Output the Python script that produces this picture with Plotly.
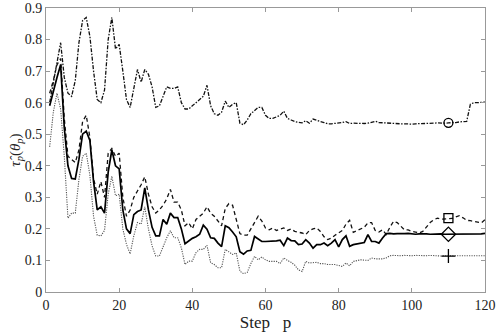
import plotly.graph_objects as go

steps = list(range(1, 121))

# dash-dot series (circle marker)
tau_circle = [0.60, 0.66, 0.73, 0.79, 0.68, 0.63, 0.62, 0.67, 0.79, 0.86,
              0.87, 0.81, 0.70, 0.61, 0.60, 0.64, 0.80, 0.87, 0.77, 0.785,
              0.70, 0.61, 0.585, 0.64, 0.705, 0.665, 0.705, 0.69, 0.65, 0.585,
              0.59, 0.62, 0.65, 0.645, 0.645, 0.65, 0.60, 0.58, 0.58, 0.59,
              0.60, 0.61, 0.62, 0.655, 0.59, 0.565, 0.56, 0.57, 0.605, 0.585,
              0.595, 0.60, 0.535, 0.53, 0.545, 0.565, 0.575, 0.585, 0.585, 0.56,
              0.55, 0.55, 0.555, 0.56, 0.573, 0.55, 0.545, 0.54, 0.538, 0.536,
              0.543, 0.535, 0.548, 0.543, 0.54, 0.537, 0.533, 0.533, 0.534, 0.535,
              0.537, 0.54, 0.534, 0.535, 0.534, 0.533, 0.534, 0.535, 0.537, 0.541,
              0.537, 0.536, 0.535, 0.535, 0.534, 0.534, 0.533, 0.533, 0.532, 0.532,
              0.533, 0.533, 0.534, 0.533, 0.534, 0.535, 0.536, 0.535, 0.535, 0.536,
              0.536, 0.537, 0.539, 0.54, 0.541, 0.595, 0.60, 0.60, 0.60, 0.602]

# dashed series (square marker)
tau_square = [0.63, 0.67, 0.72, 0.74, 0.55, 0.43, 0.42, 0.41, 0.45, 0.54,
              0.56, 0.49, 0.36, 0.31, 0.35, 0.30, 0.44, 0.455, 0.43, 0.44,
              0.30, 0.24, 0.26, 0.30, 0.32, 0.34, 0.365, 0.31, 0.27, 0.25,
              0.26, 0.275, 0.295, 0.325, 0.285, 0.285, 0.26, 0.21, 0.22, 0.20,
              0.23, 0.24, 0.25, 0.27, 0.25, 0.24, 0.225, 0.21, 0.265, 0.28,
              0.275, 0.23, 0.185, 0.18, 0.18, 0.20, 0.22, 0.24, 0.225, 0.203,
              0.197, 0.203, 0.195, 0.20, 0.203, 0.195, 0.20, 0.192, 0.19, 0.187,
              0.182, 0.195, 0.20, 0.203, 0.192, 0.175, 0.166, 0.171, 0.18, 0.187,
              0.195, 0.215, 0.227, 0.189, 0.195, 0.20, 0.205, 0.219, 0.22, 0.195,
              0.19, 0.197, 0.182, 0.205, 0.224, 0.22, 0.21, 0.197, 0.197, 0.192,
              0.19, 0.187, 0.192, 0.205, 0.22, 0.229, 0.234, 0.231, 0.232, 0.234,
              0.233, 0.238, 0.242, 0.235, 0.227, 0.226, 0.224, 0.222, 0.219, 0.229]

# solid series (diamond marker)
tau_diamond = [0.59, 0.64, 0.68, 0.72, 0.52, 0.40, 0.36, 0.358, 0.42, 0.50,
               0.51, 0.48, 0.35, 0.26, 0.27, 0.25, 0.38, 0.45, 0.40, 0.39,
               0.26, 0.20, 0.185, 0.245, 0.255, 0.26, 0.33, 0.26, 0.205, 0.178,
               0.178, 0.23, 0.215, 0.25, 0.236, 0.236, 0.20, 0.153, 0.162, 0.17,
               0.175, 0.183, 0.212, 0.199, 0.172, 0.17, 0.155, 0.144, 0.21, 0.204,
               0.19, 0.175, 0.128, 0.12, 0.13, 0.132, 0.176, 0.168, 0.16, 0.16,
               0.16, 0.16, 0.162, 0.164, 0.147, 0.171, 0.163, 0.162, 0.15, 0.152,
               0.166, 0.155, 0.139, 0.15, 0.15, 0.155, 0.147, 0.155, 0.166, 0.143,
               0.166, 0.178, 0.145, 0.15, 0.152, 0.155, 0.157, 0.182, 0.16, 0.16,
               0.155, 0.171, 0.185, 0.186, 0.184, 0.185, 0.184, 0.185, 0.186, 0.184,
               0.183, 0.184, 0.185, 0.184, 0.183, 0.184, 0.185, 0.184, 0.183, 0.183,
               0.184, 0.185, 0.185, 0.184, 0.184, 0.185, 0.184, 0.185, 0.184, 0.186]

# dotted series (plus marker)
tau_plus = [0.46, 0.57, 0.63, 0.58, 0.43, 0.234, 0.25, 0.25, 0.356, 0.43,
            0.44, 0.37, 0.24, 0.18, 0.178, 0.195, 0.31, 0.367, 0.305, 0.31,
            0.20, 0.151, 0.121, 0.178, 0.22, 0.215, 0.27, 0.20, 0.146, 0.114,
            0.114, 0.146, 0.172, 0.194, 0.172, 0.172, 0.14, 0.087, 0.098, 0.098,
            0.125, 0.135, 0.135, 0.148, 0.093, 0.087, 0.077, 0.077, 0.135, 0.127,
            0.119, 0.124, 0.066, 0.058, 0.062, 0.09, 0.113, 0.102, 0.111, 0.102,
            0.097, 0.097, 0.097, 0.09, 0.108, 0.10, 0.094, 0.085, 0.07, 0.065,
            0.097, 0.092, 0.094, 0.094, 0.09, 0.09, 0.087, 0.087, 0.087, 0.084,
            0.081, 0.092, 0.083, 0.097, 0.10, 0.102, 0.101, 0.10, 0.108, 0.105,
            0.105, 0.105, 0.108, 0.115, 0.116, 0.115, 0.115, 0.116, 0.115, 0.115,
            0.116, 0.115, 0.115, 0.115, 0.116, 0.115, 0.115, 0.114, 0.115, 0.114,
            0.115, 0.115, 0.116, 0.115, 0.115, 0.114, 0.115, 0.115, 0.115, 0.115]

marker_step = 110

series = [
    (tau_circle, dict(color='#111111', width=1.3, dash='4px,1.5px,1.5px,1.5px'), 'circle-open', 9),
    (tau_square, dict(color='#111111', width=1.3, dash='4px,3px'), 'square-open', 9),
    (tau_diamond, dict(color='black', width=1.7), 'diamond-open', 11),
    (tau_plus, dict(color='#555555', width=1.1, dash='1.2px,1.2px'), 'cross-thin-open', 10),
]

fig = go.Figure()
for vals, line, sym, msize in series:
    fig.add_trace(go.Scatter(x=steps, y=vals, mode='lines', line=line,
                             showlegend=False, hoverinfo='skip'))
    i = steps.index(marker_step)
    fig.add_trace(go.Scatter(x=[marker_step], y=[vals[i]], mode='markers',
                             marker=dict(symbol=sym, size=msize, color='black',
                                         line=dict(color='black', width=1.3)),
                             showlegend=False))

axis_common = dict(showline=True, linecolor='#999999', linewidth=1, mirror='ticks',
                   ticks='inside', ticklen=4, tickcolor='#999999',
                   showgrid=False, zeroline=False, automargin=False,
                   tickfont=dict(family='Liberation Serif', size=14, color='#222222'))

fig.update_layout(
    width=498, height=332,
    margin=dict(l=46, r=13, t=8, b=40),
    paper_bgcolor='white', plot_bgcolor='white',
    font=dict(family='Liberation Serif', size=14, color='#222222'),
    xaxis=dict(range=[0, 120], tickvals=[0, 20, 40, 60, 80, 100, 120],
               title=dict(text='Step   p', standoff=0), **axis_common),
    yaxis=dict(range=[0, 0.9],
               tickvals=[0, 0.1, 0.2, 0.3, 0.4, 0.5, 0.6, 0.7, 0.8, 0.9],
               ticktext=['0', '0.1', '0.2', '0.3', '0.4', '0.5', '0.6', '0.7', '0.8', '0.9'],
               title=dict(text='<i>τ̂<sub>p</sub></i>(<i>θ<sub>p</sub></i>)', standoff=0,
                          font=dict(size=15)),
               **axis_common),
)

fig.write_html("out.html", config={'displayModeBar': False},
               post_script="document.body.style.margin='0px';")
